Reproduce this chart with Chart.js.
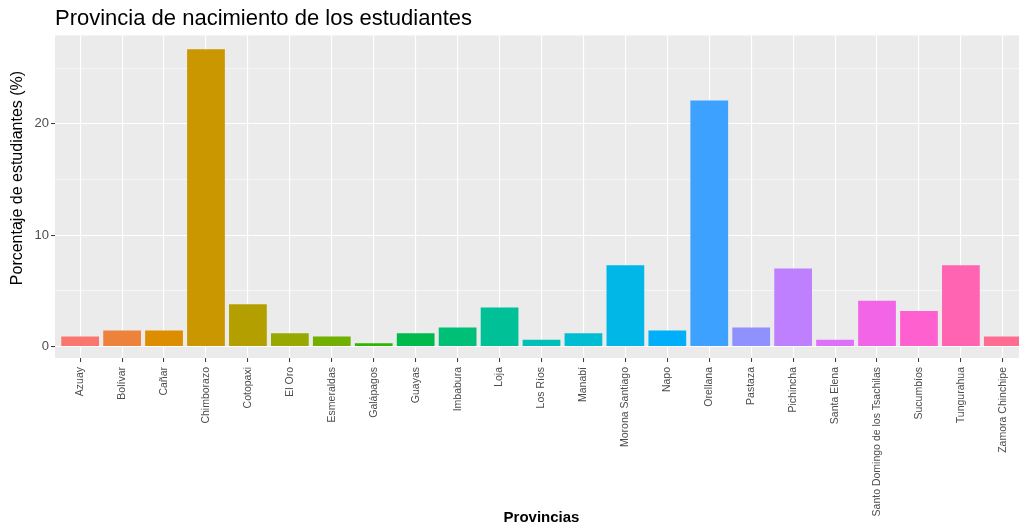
<!DOCTYPE html>
<html>
<head>
<meta charset="utf-8">
<script src="https://cdn.jsdelivr.net/npm/chart.js@4/dist/chart.umd.min.js"></script>
<style>
    html, body { margin: 0; padding: 0; background: #ffffff; overflow: hidden; }
    #wrap { width: 1019px; height: 527px; overflow: hidden; }
</style>
</head>
<body>
<div id="wrap"><canvas id="chart" width="1040" height="527"></canvas></div>
<script>
var provincias = ['Azuay', 'Bolívar', 'Cañar', 'Chimborazo', 'Cotopaxi', 'El Oro', 'Esmeraldas',
    'Galápagos', 'Guayas', 'Imbabura', 'Loja', 'Los Ríos', 'Manabí', 'Morona Santiago', 'Napo',
    'Orellana', 'Pastaza', 'Pichincha', 'Santa Elena', 'Santo Domingo de los Tsachilas',
    'Sucumbíos', 'Tungurahua', 'Zamora Chinchipe'];
var porcentajes = [0.9, 1.45, 1.45, 26.7, 3.8, 1.2, 0.9, 0.3, 1.2, 1.7, 3.5, 0.6, 1.2, 7.3, 1.45,
    22.1, 1.7, 7.0, 0.6, 4.1, 3.2, 7.3, 0.9];
var yMajor = [0, 10, 20];
var yMinor = [5, 15, 25];
var yTitle = 'Porcentaje de estudiantes (%)';

// ggplot style hue palette (hcl with c = 100, l = 65)
function hueColor(h) {
    var L = 65, C = 100;
    var U = C * Math.cos(h * Math.PI / 180), V = C * Math.sin(h * Math.PI / 180);
    var Xn = 95.047, Yn = 100, Zn = 108.883;
    var d = Xn + 15 * Yn + 3 * Zn;
    var un = 4 * Xn / d, vn = 9 * Yn / d;
    var Y = Yn * Math.pow((L + 16) / 116, 3);
    var u = U / (13 * L) + un, v = V / (13 * L) + vn;
    var X = 9 * Y * u / (4 * v);
    var Z = -X / 3 - 5 * Y + 3 * Y / v;
    X /= 100; Y /= 100; Z /= 100;
    var rgb = [
        3.240479 * X - 1.537150 * Y - 0.498535 * Z,
        -0.969256 * X + 1.875992 * Y + 0.041556 * Z,
        0.055648 * X - 0.204043 * Y + 1.057311 * Z
    ].map(function (c) {
        c = c <= 0.0031308 ? 12.92 * c : 1.055 * Math.pow(c, 1 / 2.4) - 0.055;
        return Math.round(Math.max(0, Math.min(1, c)) * 255);
    });
    return 'rgb(' + rgb.join(',') + ')';
}

var colores = provincias.map(function (p, i) {
    return hueColor(15 + 360 / provincias.length * i);
});

var panelBackground = {
    id: 'panelBackground',
    beforeDraw: function (chart) {
        var a = chart.chartArea;
        var ctx = chart.ctx;
        ctx.save();
        ctx.fillStyle = '#EBEBEB';
        ctx.fillRect(a.left, a.top, a.right - a.left, a.bottom - a.top);
        ctx.restore();
    }
};

// y title sits a bit above the panel centre in the original
var yAxisTitle = {
    id: 'yAxisTitle',
    afterDraw: function (chart) {
        var ctx = chart.ctx;
        ctx.save();
        ctx.translate(18, 178);
        ctx.rotate(-Math.PI / 2);
        ctx.font = "16px 'Liberation Sans', Arial, sans-serif";
        ctx.fillStyle = '#000000';
        ctx.textAlign = 'center';
        ctx.textBaseline = 'middle';
        ctx.fillText(yTitle, 0, 0);
        ctx.restore();
    }
};

Chart.defaults.font.family = "'Liberation Sans', Arial, sans-serif";

new Chart(document.getElementById('chart'), {
    type: 'bar',
    data: {
        datasets: [
            {
                data: provincias.map(function (p, i) { return { x: i, y: porcentajes[i] }; }),
                backgroundColor: colores,
                borderWidth: 0,
                categoryPercentage: 1,
                barPercentage: 0.9
            }
        ]
    },
    options: {
        responsive: false,
        animation: false,
        devicePixelRatio: 1,
        layout: { padding: { left: 0, right: 12, top: 0, bottom: 0 } },
        plugins: {
            legend: { display: false },
            tooltip: { enabled: false },
            title: {
                display: true,
                text: 'Provincia de nacimiento de los estudiantes',
                align: 'start',
                fullSize: false,
                color: '#000000',
                font: { size: 22, weight: 'normal' },
                padding: { top: 6, bottom: 3 }
            }
        },
        scales: {
            x: {
                type: 'linear',
                min: -0.6,
                max: provincias.length - 0.4,
                offset: false,
                afterBuildTicks: function (scale) {
                    scale.ticks = provincias.map(function (p, i) { return { value: i }; });
                },
                afterFit: function (scale) { scale.height = 169; },
                ticks: {
                    autoSkip: false,
                    minRotation: 90,
                    maxRotation: 90,
                    padding: 5,
                    color: '#4D4D4D',
                    font: { size: 10.5 },
                    callback: function (value) { return provincias[value]; }
                },
                grid: { offset: false, color: '#FFFFFF', lineWidth: 1.1, tickLength: 4, tickColor: '#333333', tickWidth: 1 },
                border: { display: false },
                title: {
                    display: true,
                    text: 'Provincias',
                    color: '#000000',
                    font: { size: 15, weight: 'bold' },
                    padding: 0
                }
            },
            y: {
                min: -1.03,
                max: 27.94,
                afterBuildTicks: function (scale) {
                    scale.ticks = yMajor.concat(yMinor).sort(function (a, b) { return a - b; })
                        .map(function (v) { return { value: v }; });
                },
                afterFit: function (scale) { scale.width = 55; },
                ticks: {
                    padding: 2,
                    color: '#4D4D4D',
                    font: { size: 13 },
                    callback: function (value) { return yMajor.indexOf(value) >= 0 ? value : ''; }
                },
                grid: {
                    color: '#FFFFFF',
                    lineWidth: function (ctx) { return yMajor.indexOf(ctx.tick.value) >= 0 ? 1.1 : 0.55; },
                    tickLength: 4,
                    tickColor: function (ctx) { return yMajor.indexOf(ctx.tick.value) >= 0 ? '#333333' : 'rgba(0,0,0,0)'; },
                    tickWidth: 1
                },
                border: { display: false }
            }
        }
    },
    plugins: [panelBackground, yAxisTitle]
});
</script>
</body>
</html>
